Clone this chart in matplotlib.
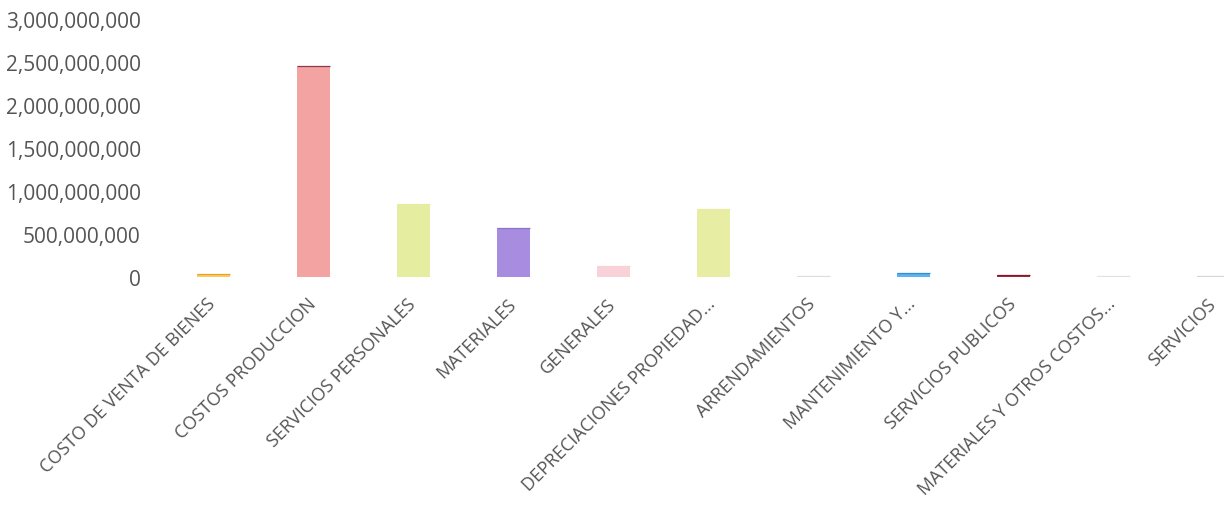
import numpy as np
import matplotlib.pyplot as plt
from matplotlib.ticker import FuncFormatter

# categories and values (pesos)
categorias = [
    "COSTO DE VENTA DE BIENES",
    "COSTOS PRODUCCION",
    "SERVICIOS PERSONALES",
    "MATERIALES",
    "GENERALES",
    "DEPRECIACIONES PROPIEDAD...",
    "ARRENDAMIENTOS",
    "MANTENIMIENTO Y...",
    "SERVICIOS PUBLICOS",
    "MATERIALES Y OTROS COSTOS...",
    "SERVICIOS",
]
valores = [40e6, 2450e6, 850e6, 570e6, 125e6, 790e6, 8e6, 45e6, 25e6, 6e6, 6e6]
colores = ["#f3cf6a", "#f4a3a3", "#e5eea0", "#a88ce0", "#f8d2d8", "#e7eda2",
           "#dcdcdc", "#5cb3ee", "#a8283e", "#e2e2e2", "#d6d6d6"]
bordes = ["#f0a020", "#8a3a4a", "#e5eea0", "#8d72cc", "#f8d2d8", "#e7eda2",
          "#dcdcdc", "#3a8ad0", "#801830", "#e2e2e2", "#d6d6d6"]

plt.rcParams['font.family'] = ['Open Sans', 'DejaVu Sans']

fig = plt.figure(figsize=(12.24, 5.06), dpi=100)
ax = fig.add_axes([163 / 1224, 228 / 506, 1100 / 1224, 258 / 506])

x = np.arange(len(categorias))
ax.bar(x, valores, width=0.33, color=colores, edgecolor="none")
# thin darker top line on each bar
ax.hlines(valores, x - 0.165, x + 0.165, colors=bordes, linewidth=0.9)

ax.set_xlim(-0.5, len(categorias) - 0.5)
ax.set_ylim(0, 3e9)
ax.set_yticks(np.arange(0, 3.01e9, 5e8))
ax.yaxis.set_major_formatter(FuncFormatter(lambda v, p: f"{v:,.0f}"))
ax.set_xticks(x)
ax.set_xticklabels(categorias, rotation=45, ha="right", rotation_mode="anchor",
                   va="center")
ax.tick_params(axis="both", length=0, colors="#555555")
ax.tick_params(axis="y", pad=16, labelsize=15)
ax.tick_params(axis="x", pad=17, labelsize=13)
for s in ax.spines.values():
    s.set_visible(False)

fig.savefig("out.png", dpi=100)
